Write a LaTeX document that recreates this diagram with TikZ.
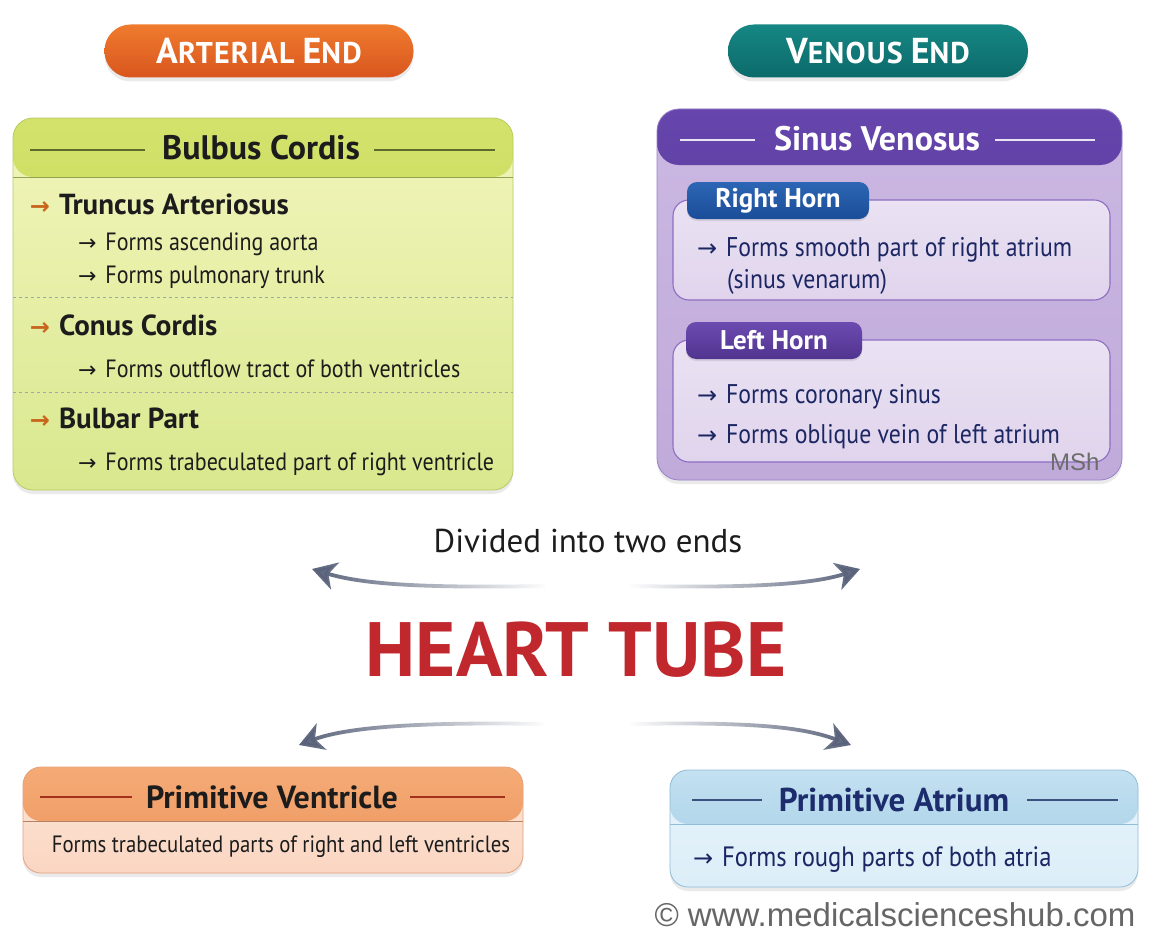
\documentclass[tikz,border=0pt]{standalone}
\usepackage{fontspec}
\setmainfont{PT Sans}
\newfontfamily\condfont{PT Sans}[FakeStretch=0.88]
\newfontfamily\arrowfont{DejaVu Sans}
\newfontfamily\arialfont{Liberation Sans}
\usetikzlibrary{shadows,fadings,arrows.meta}

\definecolor{ink}{HTML}{1C1C1C}
\definecolor{navy}{HTML}{1B2663}
\definecolor{orA}{HTML}{EF7B2D}
\definecolor{orB}{HTML}{D9561F}
\definecolor{teA}{HTML}{168784}
\definecolor{teB}{HTML}{0C6A6A}
\definecolor{gH1}{HTML}{D3E26B}
\definecolor{gH2}{HTML}{BDD24F}
\definecolor{gB1}{HTML}{F2F5BC}
\definecolor{gB2}{HTML}{D9E88E}
\definecolor{gBd}{HTML}{B9CB62}
\definecolor{gLine}{HTML}{5E6A2A}
\definecolor{orArr}{HTML}{C8661E}
\definecolor{pH1}{HTML}{6646AC}
\definecolor{pH2}{HTML}{4A2C8A}
\definecolor{pB1}{HTML}{CBB8E2}
\definecolor{pB2}{HTML}{C0AADA}
\definecolor{pBd}{HTML}{9A80C8}
\definecolor{pIn1}{HTML}{EAE2F3}
\definecolor{pIn2}{HTML}{E0D4EC}
\definecolor{pInBd}{HTML}{8D6EC4}
\definecolor{bTab1}{HTML}{2C66B4}
\definecolor{bTab2}{HTML}{1B4D98}
\definecolor{vTab1}{HTML}{6C4BB0}
\definecolor{vTab2}{HTML}{51338F}
\definecolor{vH1}{HTML}{F5AB76}
\definecolor{vH2}{HTML}{EC935C}
\definecolor{vB1}{HTML}{FDE6D6}
\definecolor{vB2}{HTML}{FAD6C2}
\definecolor{vBd}{HTML}{E3A27E}
\definecolor{vLine}{HTML}{A3301C}
\definecolor{aH1}{HTML}{C3E1F1}
\definecolor{aH2}{HTML}{9FCAE3}
\definecolor{aB1}{HTML}{E8F4FB}
\definecolor{aB2}{HTML}{DCEEF8}
\definecolor{aBd}{HTML}{8FBCD8}
\definecolor{aLine}{HTML}{3C517E}
\definecolor{aTitle}{HTML}{1C2C6C}
\definecolor{arrGray}{HTML}{59627A}
\definecolor{heartRed}{HTML}{C1282E}

\tikzfading[name=fadeL, left color=transparent!0, middle color=transparent!15, right color=transparent!100]
\tikzfading[name=fadeR, left color=transparent!100, middle color=transparent!15, right color=transparent!0]

\newcommand\ia[2][22]{{\color{#2}\arrowfont\fontsize{#1}{#1}\selectfont →}\hspace{9pt}}

\begin{document}
\begin{tikzpicture}[x=1pt,y=-1pt,
  every node/.style={inner sep=0pt, outer sep=0pt},
  card/.style={draw=#1, line width=0.8pt, rounded corners=18pt,
    drop shadow={opacity=0.16, shadow xshift=0pt, shadow yshift=-4pt}},
  band/.style n args={3}{path picture={\shade[top color=#1,bottom color=#2]
    (path picture bounding box.north west) rectangle ([yshift=-#3]path picture bounding box.north east);}},
  pill/.style={rounded corners=26pt, minimum height=53pt, text=white,
    drop shadow={opacity=0.16, shadow xshift=0pt, shadow yshift=-4pt}},
  tab/.style={rounded corners=10pt, text=white, font=\bfseries\fontsize{27}{27}\selectfont,
    drop shadow={opacity=0.2, shadow xshift=0pt, shadow yshift=-2pt}},
  inbox/.style={draw=pInBd, line width=1.1pt, rounded corners=16pt, top color=pIn1, bottom color=pIn2},
  head/.style={anchor=base west, text=ink, font=\bfseries\fontsize{29}{29}\selectfont},
  sub/.style={anchor=base west, text=ink, font=\condfont\fontsize{25}{25}\selectfont},
  vsub/.style={anchor=base west, text=navy, font=\condfont\fontsize{27}{27}\selectfont},
  tline/.style={line width=1.2pt},
  sep/.style={draw=gray!70, dashed, line width=0.6pt},
  tarrow/.style={draw=arrGray, line width=3.8pt, -{Stealth[length=24pt,width=28pt,inset=7pt]}}
]
\useasboundingbox[fill=white] (0,0) rectangle (1171,942);

% ---------- pills ----------
\node[pill, top color=orA, bottom color=orB, minimum width=309pt] (art) at (259,51)
  {\bfseries\addfontfeatures{LetterSpace=4}{\fontsize{36}{36}\selectfont A}{\fontsize{30}{30}\selectfont RTERIAL}\hspace{8pt}{\fontsize{36}{36}\selectfont E}{\fontsize{30}{30}\selectfont ND}};
\node[pill, top color=teA, bottom color=teB, minimum width=300pt] (ven) at (878,51)
  {\bfseries\addfontfeatures{LetterSpace=4}{\fontsize{36}{36}\selectfont V}{\fontsize{30}{30}\selectfont ENOUS}\hspace{8pt}{\fontsize{36}{36}\selectfont E}{\fontsize{30}{30}\selectfont ND}};

% ---------- Bulbus Cordis ----------
\node[card=gBd, rounded corners=20pt, top color=gB1, bottom color=gB2,
  minimum width=500pt, minimum height=372pt, band={gH1}{gH2}{59pt}] (bulbus) at (263,304) {};
\draw[gBd!80!black, line width=0.6pt] (13,177) -- (513,177);
\node[text=ink, font=\bfseries\fontsize{34}{34}\selectfont] (bctitle) at (261,148) {Bulbus Cordis};
\draw[tline, gLine] (30,150) -- (145,150);
\draw[tline, gLine] (374,150) -- (495,150);
\node[head] (ta) at (30,214) {\ia[24]{orArr}Truncus Arteriosus};
\node[sub] (ta1) at (78,250) {\ia{ink}Forms ascending aorta};
\node[sub] (ta2) at (78,283) {\ia{ink}Forms pulmonary trunk};
\draw[sep] (13,297) -- (513,297);
\node[head] (cc) at (30,335) {\ia[24]{orArr}Conus Cordis};
\node[sub] (cc1) at (78,377) {\ia{ink}Forms outflow tract of both ventricles};
\draw[sep] (13,392) -- (513,392);
\node[head] (bp) at (30,428) {\ia[24]{orArr}Bulbar Part};
\node[sub] (bp1) at (78,470) {\ia{ink}Forms trabeculated part of right ventricle};

% ---------- Sinus Venosus ----------
\node[card=pBd, rounded corners=22pt, top color=pB1, bottom color=pB2,
  minimum width=465pt, minimum height=371pt, band={pH1}{pH2}{56pt}] (sinus) at (889.5,294.5) {};
\node[text=white, font=\bfseries\fontsize{34}{34}\selectfont] (svtitle) at (877,139) {Sinus Venosus};
\draw[tline, white!85!pH1] (680,140) -- (755,140);
\draw[tline, white!85!pH1] (995,140) -- (1095,140);

\node[inbox, minimum width=437pt, minimum height=100pt] (rh) at (891.5,250) {};
\node[tab, top color=bTab1, bottom color=bTab2, minimum width=182pt, minimum height=37pt] (rhtab) at (778,200.5) {Right Horn};
\node[vsub] (rh1) at (697,256) {\ia[24]{navy}Forms smooth part of right atrium};
\node[vsub] (rh2) at (727,288) {(sinus venarum)};

\node[inbox, minimum width=437pt, minimum height=122pt] (lh) at (891.5,401) {};
\node[tab, top color=vTab1, bottom color=vTab2, minimum width=176pt, minimum height=37pt] (lhtab) at (774,340.5) {Left Horn};
\node[vsub] (lh1) at (697,403) {\ia[24]{navy}Forms coronary sinus};
\node[vsub] (lh2) at (697,443) {\ia[24]{navy}Forms oblique vein of left atrium};
\node[anchor=base west, text=gray!85!black, font=\arialfont\fontsize{24}{24}\selectfont] (msh) at (1050,470) {MSh};

% ---------- centre ----------
\node[text=ink, font=\fontsize{33}{33}\selectfont] (div) at (588,541) {Divided into two ends};
\node[text=heartRed, font=\bfseries\fontsize{77}{77}\selectfont] (heart) at (576,650) {HEART TUBE};

\coordinate (ulT) at (545,586); \coordinate (ulH) at (312,569);
\coordinate (urT) at (630,586); \coordinate (urH) at (860,569);
\coordinate (llT) at (545,724); \coordinate (llH) at (299,745);
\coordinate (lrT) at (630,724); \coordinate (lrH) at (851,745);
\draw[tarrow, path fading=fadeL] (ulT) .. controls (430,588) and (365,585) .. (ulH);
\draw[tarrow, path fading=fadeR] (urT) .. controls (745,588) and (810,585) .. (urH);
\draw[tarrow, path fading=fadeL] (llT) .. controls (430,722) and (350,726) .. (llH);
\draw[tarrow, path fading=fadeR] (lrT) .. controls (745,722) and (800,726) .. (lrH);

% ---------- Primitive Ventricle ----------
\node[card=vBd, top color=vB1, bottom color=vB2,
  minimum width=500pt, minimum height=106pt, band={vH1}{vH2}{54pt}] (pv) at (273,820) {};
\draw[vBd!80!black, line width=0.6pt] (23,821) -- (523,821);
\node[text=ink, font=\bfseries\fontsize{32}{32}\selectfont] (pvtitle) at (272,797) {Primitive Ventricle};
\draw[tline, vLine] (40,797) -- (132,797);
\draw[tline, vLine] (410,797) -- (505,797);
\node[text=ink, font=\condfont\fontsize{23.6}{23.6}\selectfont] (pv1) at (281,847) {Forms trabeculated parts of right and left ventricles};

% ---------- Primitive Atrium ----------
\node[card=aBd, top color=aB1, bottom color=aB2,
  minimum width=468pt, minimum height=117pt, band={aH1}{aH2}{54pt}] (pa) at (904,828.5) {};
\draw[aBd, line width=0.6pt] (670,824) -- (1138,824);
\node[text=aTitle, font=\bfseries\fontsize{33}{33}\selectfont] (patitle) at (894,800) {Primitive Atrium};
\draw[tline, aLine] (692,800) -- (762,800);
\draw[tline, aLine] (1027,800) -- (1118,800);
\node[anchor=base west, text=navy, font=\condfont\fontsize{28}{28}\selectfont] (pa1) at (693,866) {\ia[24]{navy}Forms rough parts of both atria};

% ---------- watermark ----------
\node[text=gray!80!black, font=\arialfont\fontsize{33}{33}\selectfont] (copy) at (895,915) {© www.medicalscienceshub.com};
\end{tikzpicture}
\end{document}
